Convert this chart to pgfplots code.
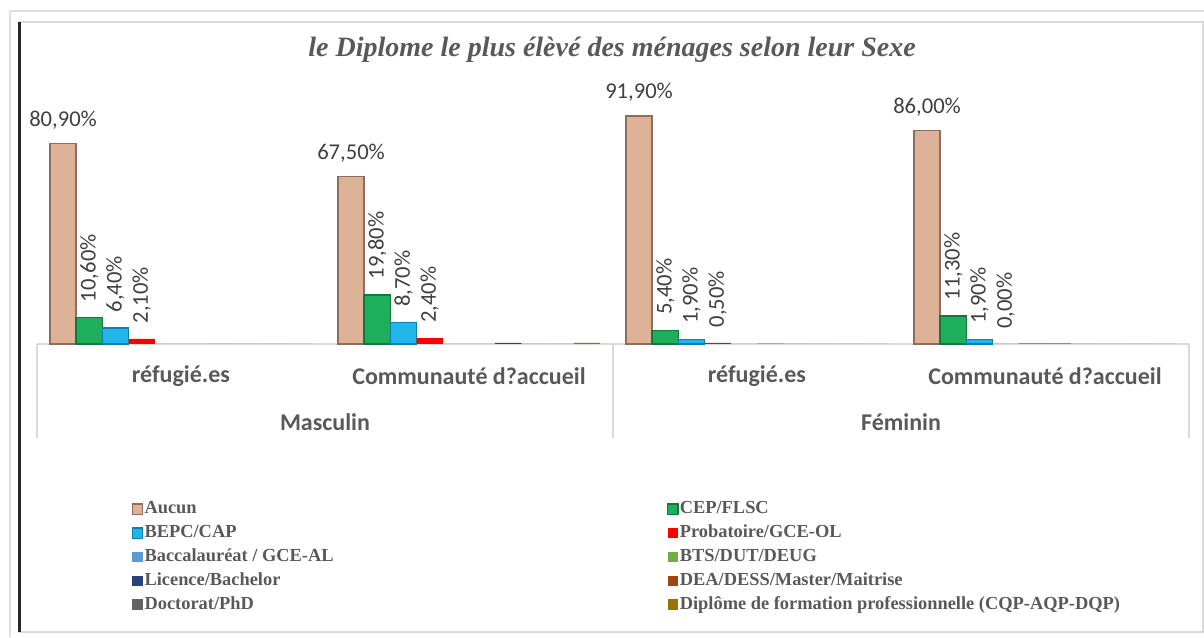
\documentclass[border=0pt]{standalone}
\usepackage{fontspec}
\setmainfont{Carlito}
\newfontfamily\timesf{Liberation Serif}
\usepackage{pgfplots}
\pgfplotsset{compat=1.18}

\definecolor{txtgray}{HTML}{595959}
\definecolor{lblgray}{HTML}{404040}
\definecolor{cAucun}{HTML}{DDB398}
\definecolor{cAucunD}{HTML}{8F6D5E}
\definecolor{cCEP}{HTML}{1FAF5C}
\definecolor{cCEPD}{HTML}{0E7A3D}
\definecolor{cBEPC}{HTML}{22B5EC}
\definecolor{cBEPCD}{HTML}{0F7FB0}
\definecolor{cProb}{HTML}{FF0000}
\definecolor{cBac}{HTML}{5B9BD5}
\definecolor{cBTS}{HTML}{70AD47}
\definecolor{cLic}{HTML}{264478}
\definecolor{cDEA}{HTML}{9E480E}
\definecolor{cDoc}{HTML}{636363}
\definecolor{cDip}{HTML}{997300}

\begin{document}
\begin{tikzpicture}
\path[use as bounding box] (0pt,0pt) rectangle (602pt,318.5pt);
% outer frame
\draw[gray!25, line width=1pt] (5pt,0pt) -- (5pt,313pt) -- (602pt,313pt);
\draw[gray!30, line width=0.8pt] (9.5pt,2.5pt) -- (601.5pt,2.5pt) -- (601.5pt,307.5pt) -- (9.5pt,307.5pt);
\draw[black!85, line width=1.5pt] (9.8pt,2.5pt) -- (9.8pt,307.5pt);
% title
\node[font=\timesf\bfseries\itshape\fontsize{14}{16}\selectfont, text=txtgray]
  at (306pt,293.5pt) {le Diplome le plus élèvé des ménages selon leur Sexe};

\begin{axis}[
    at={(18.5pt,146.5pt)}, anchor=south west,
    scale only axis, width=576pt, height=124pt,
    xmin=-0.5, xmax=3.5, ymin=0, ymax=100,
    ybar=0pt, bar width=0.091,
    axis x line*=bottom, axis y line=none,
    x axis line style={draw=gray!30, line width=0.8pt},
    xtick={0,1,2,3},
    xticklabels={réfugié.es, Communauté d?accueil, réfugié.es, Communauté d?accueil},
    major tick length=0pt,
    xticklabel style={font=\bfseries\fontsize{12}{14}\selectfont, text=txtgray, anchor=center, yshift=-16pt},
    clip=false,
    /pgf/number format/assume math mode=true,
    nodes near coords style={font=\fontsize{11.3}{13}\selectfont, text=lblgray},
    legend columns=2,
    legend image code/.code={\fill[#1] (0pt,-2.6pt) rectangle (5.2pt,2.6pt);},
    legend style={at={(0.0765,-0.609)}, anchor=north west, draw=none, fill=none,
      font=\timesf\bfseries\fontsize{9.2}{11}\selectfont, text=txtgray,
      nodes={inner sep=0.6pt, text height=6.6pt, text depth=2.1pt},
      row sep=2pt, /tikz/column 2/.style={column sep=166pt}},
    legend cell align=left,
]
% Aucun
\addplot[fill=cAucun, draw=cAucunD, line width=0.7pt,
  nodes near coords={\pgfmathprintnumber[fixed,fixed zerofill,precision=2,use comma]{\pgfplotspointmeta}\%},
  every node near coord/.append style={anchor=south, yshift=3.5pt}]
  coordinates {(0,80.9) (1,67.5) (2,91.9) (3,86.0)};
\addlegendentry{Aucun}
% CEP/FLSC
\addplot[fill=cCEP, draw=cCEPD, line width=0.7pt,
  nodes near coords={\pgfmathprintnumber[fixed,fixed zerofill,precision=2,use comma]{\pgfplotspointmeta}\%},
  every node near coord/.append style={rotate=90, anchor=west, inner xsep=7.5pt}]
  coordinates {(0,10.6) (1,19.8) (2,5.4) (3,11.3)};
\addlegendentry{CEP/FLSC}
% BEPC/CAP
\addplot[fill=cBEPC, draw=cBEPCD, line width=0.7pt,
  nodes near coords={\pgfmathprintnumber[fixed,fixed zerofill,precision=2,use comma]{\pgfplotspointmeta}\%},
  every node near coord/.append style={rotate=90, anchor=west, inner xsep=7.5pt}]
  coordinates {(0,6.4) (1,8.7) (2,1.9) (3,1.9)};
\addlegendentry{BEPC/CAP}
% Probatoire/GCE-OL
\addplot[fill=cProb, draw=none,
  nodes near coords={\pgfmathprintnumber[fixed,fixed zerofill,precision=2,use comma]{\pgfplotspointmeta}\%},
  every node near coord/.append style={rotate=90, anchor=west, inner xsep=7.5pt}]
  coordinates {(0,2.1) (1,2.4) (2,0.5) (3,0.0)};
\addlegendentry{Probatoire/GCE-OL}
% Baccalaureat
\addplot[fill=cBac, draw=none] coordinates {(0,0) (1,0) (2,0) (3,0.4)};
\addlegendentry{Baccalauréat / GCE-AL}
% BTS
\addplot[fill=cBTS, draw=none] coordinates {(0,0) (1,0) (2,0.3) (3,0.4)};
\addlegendentry{BTS/DUT/DEUG}
% Licence
\addplot[fill=cLic, draw=none] coordinates {(0,0) (1,0.5) (2,0) (3,0)};
\addlegendentry{Licence/Bachelor}
% DEA
\addplot[fill=cDEA, draw=none] coordinates {(0,0) (1,0) (2,0) (3,0)};
\addlegendentry{DEA/DESS/Master/Maitrise}
% Doctorat
\addplot[fill=cDoc, draw=none] coordinates {(0,0) (1,0) (2,0) (3,0)};
\addlegendentry{Doctorat/PhD}
% Diplome pro
\addplot[fill=cDip, draw=none] coordinates {(0,0) (1,0.5) (2,0) (3,0)};
\addlegendentry{Diplôme de formation professionnelle (CQP-AQP-DQP)}

% category frame
\draw[gray!30, line width=0.8pt] (axis cs:-0.5,0) -- (axis cs:-0.5,-38);
\draw[gray!30, line width=0.8pt] (axis cs:1.5,0) -- (axis cs:1.5,-38);
\draw[gray!30, line width=0.8pt] (axis cs:3.5,0) -- (axis cs:3.5,-38);
\node[font=\bfseries\fontsize{12}{14}\selectfont, text=txtgray] at (axis cs:0.5,-31.5) {Masculin};
\node[font=\bfseries\fontsize{12}{14}\selectfont, text=txtgray] at (axis cs:2.5,-31.5) {Féminin};
\end{axis}
\end{tikzpicture}
\end{document}
